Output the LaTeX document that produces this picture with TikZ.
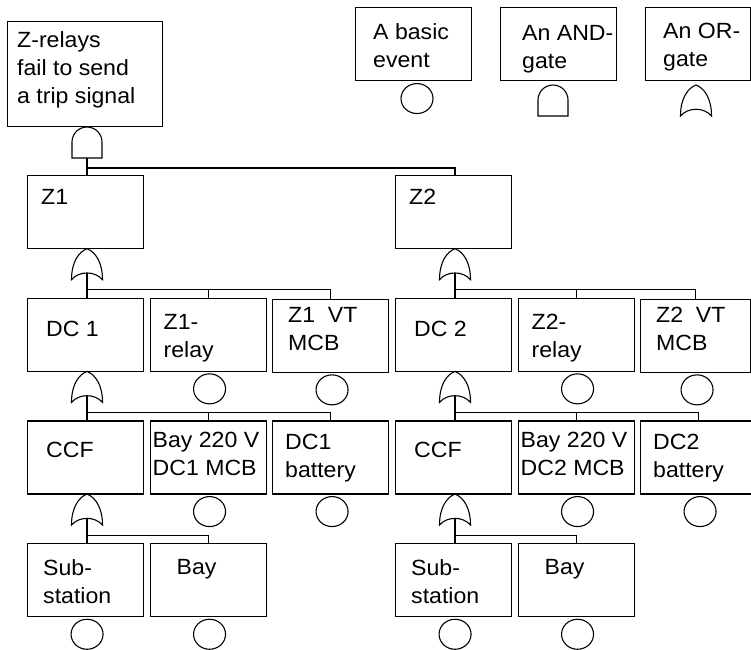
\documentclass[tikz,border=0pt]{standalone}
\usepackage{fontspec}
\setmainfont{Liberation Sans}[FakeStretch=1.05]
\usetikzlibrary{calc,math,shapes.geometric}

\tikzset{
  event/.style={draw,line width=1.1pt,rectangle,minimum width=116,minimum height=73,inner sep=0pt,anchor=north west},
  evtext/.style={anchor=north west,align=left,inner sep=0pt,font=\fontsize{22}{28}\selectfont},
  basic/.style={draw,line width=1.1pt,ellipse,minimum width=32,minimum height=30,inner sep=0pt,anchor=north},
  gate/.style={line width=1.1pt},
  link/.style={line width=1.1pt},
}
%OR-gate, #1 = foot of the hollow base
\newcommand{\orgate}[1]{%
\draw[gate] ($(#1)+(-15.5,-7)$) .. controls ($(#1)+(-15.5,11)$) and ($(#1)+(-8,21)$) .. ($(#1)+(0,24)$)
 .. controls ($(#1)+(8,21)$) and ($(#1)+(15.5,11)$) .. ($(#1)+(15.5,-7)$)
 .. controls ($(#1)+(8,2)$) and ($(#1)+(-8,2)$) .. ($(#1)+(-15.5,-7)$) -- cycle;}
%AND-gate, #1 = middle of the flat base
\newcommand{\andgate}[1]{%
\draw[gate] ($(#1)+(-15,0)$) -- ++(0,16) arc (180:0:15) -- ++(0,-16) -- cycle;}

\begin{document}
\begin{tikzpicture}[x=1pt,y=1pt]
\tikzmath{
\px=122.5;%column pitch
\py=122.7;%row pitch
}
\useasboundingbox (0,0) rectangle (751,-649);

%top event
\node[event,minimum width=155,minimum height=105] (top) at (7,-21) {};
\node[evtext] (ttop) at ($(top.north west)+(10,-10)$) {Z-relays\\fail to send\\a trip signal};
\coordinate (ag) at (87,-158);
\andgate{ag}

%legend
\node[event] (leg1) at (355,-7) {};
\node[evtext] (tleg1) at ($(leg1.north west)+(18,-16)$) {A basic\\event};
\node[basic] (eleg) at (417,-83) {};
\node[event] (leg2) at (500,-7) {};
\node[evtext] (tleg2) at ($(leg2.north west)+(22,-18)$) {An AND-\\gate};
\coordinate (gleg2) at (553,-116);
\andgate{gleg2}
\node[event,minimum width=105] (leg3) at (645,-7) {};
\node[evtext] (tleg3) at ($(leg3.north west)+(18,-16)$) {An OR-\\gate};
\coordinate (gleg3) at (696,-109);
\orgate{gleg3}

%the two sub trees
\foreach \z in {1,2}{
\tikzmath{\ox=368*(\z-1); \wl=116-6*(\z-1);}
%boxes
\node[event] (Z\z) at ({27+\ox},-175) {};
\node[event] (DC\z) at ({27+\ox},{-175-\py}) {};
\node[event] (relay\z) at ({27+\px+\ox},{-175-\py}) {};
\node[event,minimum width=\wl] (vt\z) at ({27+2*\px+\ox},{-176-\py}) {};
\node[event] (ccf\z) at ({27+\ox},{-175-2*\py}) {};
\node[event] (mcb\z) at ({27+\px+\ox},{-175-2*\py}) {};
\node[event] (bat\z) at ({27+2*\px+\ox},{-175-2*\py}) {};
\node[event] (sub\z) at ({27+\ox},{-175-3*\py}) {};
\node[event] (bay\z) at ({27+\px+\ox},{-175-3*\py}) {};
%texts
\node[evtext] (tZ\z) at ($(Z\z.north west)+(14,-14)$) {Z\z};
\node[evtext] (tDC\z) at ($(DC\z.north west)+(19,-23)$) {DC \z};
\node[evtext] (trelay\z) at ($(relay\z.north west)+(14,-16)$) {Z\z-\\relay};
\node[evtext] (tvt\z) at ($(vt\z.north west)+(16,-8)$) {Z\z\ \ VT\\MCB};
\node[evtext] (tccf\z) at ($(ccf\z.north west)+(19,-22)$) {CCF};
\node[evtext] (tmcb\z) at ($(mcb\z.north west)+(3,-12)$) {Bay 220 V\\DC\z{} MCB};
\node[evtext] (tbat\z) at ($(bat\z.north west)+(13,-14)$) {DC\z\\battery};
\node[evtext] (tsub\z) at ($(sub\z.north west)+(16,-16)$) {Sub-\\station};
\node[evtext] (tbay\z) at ($(bay\z.north west)+(27,-16)$) {Bay};
%basic events
\foreach \b in {relay,vt,mcb,bat,sub,bay}
  \node[basic] (e\b\z) at ($(\b\z.south)+(1.5,-1.5)$) {};
%gates
\coordinate (og\z) at ({87+\ox},{-150-\py});
\coordinate (dg\z) at ({87+\ox},{-150-2*\py});
\coordinate (cg\z) at ({87+\ox},{-150-3*\py});
\orgate{og\z}
\orgate{dg\z}
\orgate{cg\z}
%links
\coordinate (bo\z) at ($(og\z)+(0,-17)$);
\draw[link] (og\z) -- (og\z |- DC\z.north);
\draw[link] (bo\z) -| (relay\z.north);
\draw[link] (bo\z) -| (vt\z.north);
\coordinate (bd\z) at ($(dg\z)+(0,-17)$);
\draw[link] (dg\z) -- (dg\z |- ccf\z.north);
\draw[link] (bd\z) -| (mcb\z.north);
\draw[link] (bd\z) -| (bat\z.north);
\coordinate (bc\z) at ($(cg\z)+(0,-17)$);
\draw[link] (cg\z) -- (cg\z |- sub\z.north);
\draw[link] (bc\z) -| (bay\z.north);
}

%top links
\coordinate (bt) at ($(ag)+(0,-10)$);
\draw[link] (ag) -- (ag |- Z1.north);
\draw[link] (bt) -| (og2 |- Z2.north);

\end{tikzpicture}
\end{document}
